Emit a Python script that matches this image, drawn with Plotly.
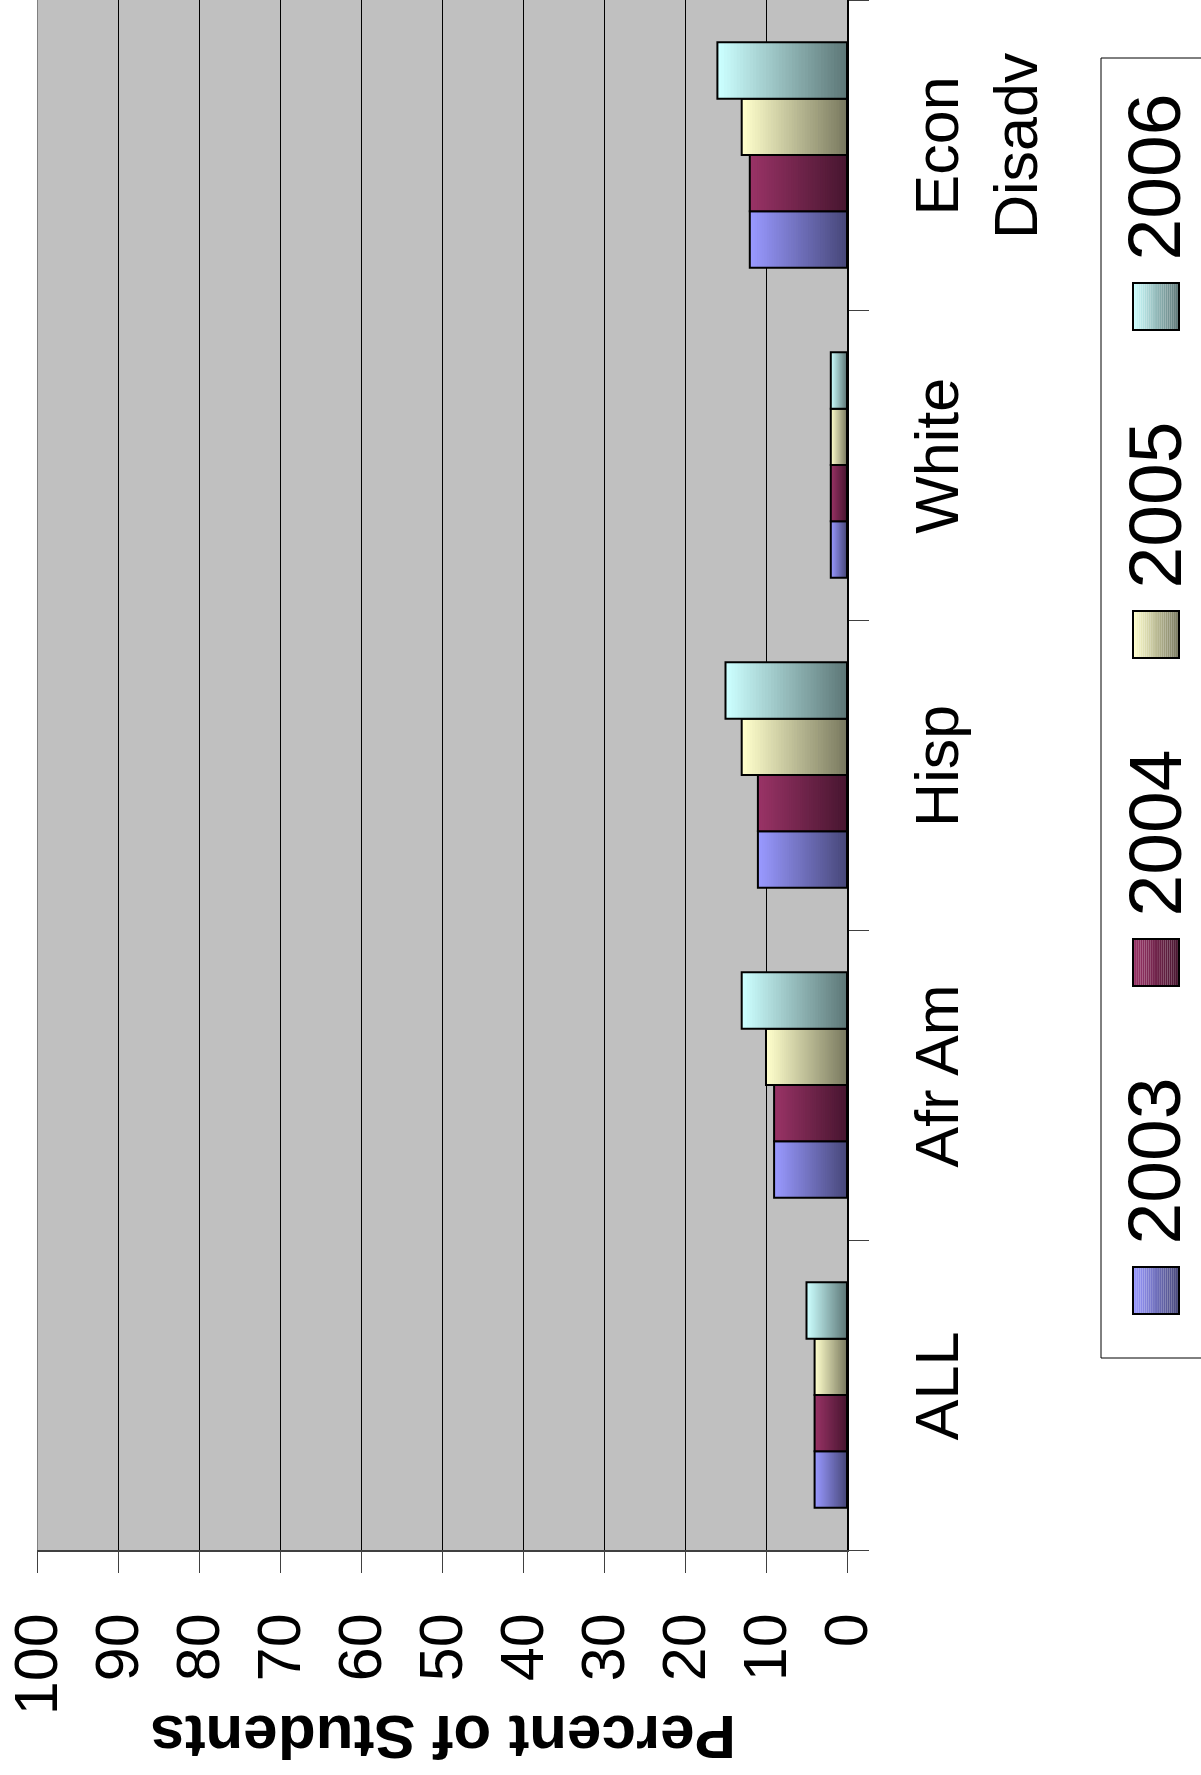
import plotly.graph_objects as go

# ---- data ----
categories = ["ALL", "Afr Am", "Hisp", "White", "Econ<br>Disadv"]
years = ["2003", "2004", "2005", "2006"]
v2003 = [4, 9, 11, 2, 12]
v2004 = [4, 9, 11, 2, 12]
v2005 = [4, 10, 13, 2, 13]
v2006 = [5, 13, 15, 2, 16]
series_values = [v2003, v2004, v2005, v2006]
value_ticks = [0, 10, 20, 30, 40, 50, 60, 70, 80, 90, 100]

# ---- style ----
light = [(153, 153, 255), (153, 51, 102), (255, 255, 204), (204, 255, 255)]
dark = [(72, 72, 122), (72, 22, 48), (122, 122, 96), (94, 120, 120)]
FONT = "Liberation Sans, Arial, sans-serif"
W, H = 1201, 1775
ML, MR, MT, MB = 37, 354, 0, 225
PW = W - ML - MR
PH = H - MT - MB
NSTEP = 40


def mix(c1, c2, t):
    return "rgb(%d,%d,%d)" % tuple(round(a + (b - a) * t) for a, b in zip(c1, c2))


def px_x(p):
    return (p - ML) / PW


def px_y(p):
    return (H - MB - p) / PH


fig = go.Figure()
for si, (yr, vals) in enumerate(zip(years, series_values)):
    og = "g%d" % si
    for k in range(NSTEP):
        frac = 1 - k / NSTEP
        fig.add_trace(go.Bar(
            x=[v * frac for v in vals], y=categories, orientation="h",
            offsetgroup=og, marker=dict(color=mix(light[si], dark[si], k / (NSTEP - 1)),
                                        line=dict(width=0)),
            showlegend=False, hoverinfo="skip"))
    fig.add_trace(go.Bar(
        x=vals, y=categories, orientation="h", offsetgroup=og, name=yr,
        marker=dict(color="rgba(0,0,0,0)", line=dict(color="black", width=2)),
        showlegend=False))

shapes = []
annotations = []

# plot-area left border
shapes.append(dict(type="line", xref="x", yref="paper", x0=100, x1=100, y0=0, y1=1,
                   line=dict(color="#808080", width=2), layer="above"))

# legend box
shapes.append(dict(type="rect", xref="paper", yref="paper",
                   x0=px_x(1101), x1=px_x(1230), y0=px_y(58), y1=px_y(1358),
                   line=dict(color="black", width=1), fillcolor="white", layer="below"))
pitch = 328
for i, yr in enumerate(reversed(years)):
    si = len(years) - 1 - i
    t0 = 97 + i * pitch
    tc = t0 + 80.5
    sq0, sq1 = t0 + 186, t0 + 233
    sx0, sx1 = 1133, 1179
    nslice = 24
    for k in range(nslice):
        a = sx0 + (sx1 - sx0) * k / nslice
        b = sx0 + (sx1 - sx0) * (k + 1) / nslice
        shapes.append(dict(type="rect", xref="paper", yref="paper",
                           x0=px_x(a), x1=px_x(b), y0=px_y(sq0), y1=px_y(sq1),
                           line=dict(width=0), fillcolor=mix(light[si], dark[si], k / (nslice - 1))))
    shapes.append(dict(type="rect", xref="paper", yref="paper",
                       x0=px_x(sx0), x1=px_x(sx1), y0=px_y(sq0), y1=px_y(sq1),
                       line=dict(color="black", width=2), fillcolor="rgba(0,0,0,0)"))
    annotations.append(dict(text=yr, xref="paper", yref="paper", x=px_x(1154), y=px_y(tc),
                            xanchor="center", yanchor="middle", textangle=-90, showarrow=False,
                            font=dict(family=FONT, size=75, color="black")))

# axis title (upside down)
annotations.append(dict(text="<b>Percent of Students</b>", xref="paper", yref="paper",
                        x=px_x(443), y=px_y(1738), xanchor="center", yanchor="middle",
                        textangle=180, showarrow=False,
                        font=dict(family=FONT, size=62, color="black")))

fig.update_layout(
    width=W, height=H, margin=dict(l=ML, r=MR, t=MT, b=MB, pad=0, autoexpand=False),
    paper_bgcolor="white", plot_bgcolor="#C0C0C0",
    barmode="group", bargap=0.2727, bargroupgap=0,
    shapes=shapes, annotations=annotations, showlegend=False,
    xaxis=dict(range=[100, 0], tickvals=value_ticks, ticktext=[str(v) for v in value_ticks],
               automargin=False,
               showgrid=True, gridcolor="black", gridwidth=1, zeroline=False,
               showline=True, linecolor="#404040", linewidth=2,
               ticks="outside", ticklen=21, tickwidth=1, tickcolor="#404040",
               tickangle=-90, ticklabelstandoff=16,
               tickfont=dict(family=FONT, size=61, color="black")),
    yaxis=dict(type="category", categoryorder="array", categoryarray=categories,
               automargin=False,
               side="right", showgrid=False, zeroline=False,
               showline=True, linecolor="black", linewidth=1.5,
               ticks="outside", ticklen=20, tickwidth=1, tickcolor="#404040",
               tickson="boundaries", tickangle=-90, ticklabelstandoff=36,
               tickfont=dict(family=FONT, size=61, color="black")),
)

fig.write_html("out.html", config={"displayModeBar": False},
               post_script="document.body.style.margin='0';document.body.style.padding='0';")
